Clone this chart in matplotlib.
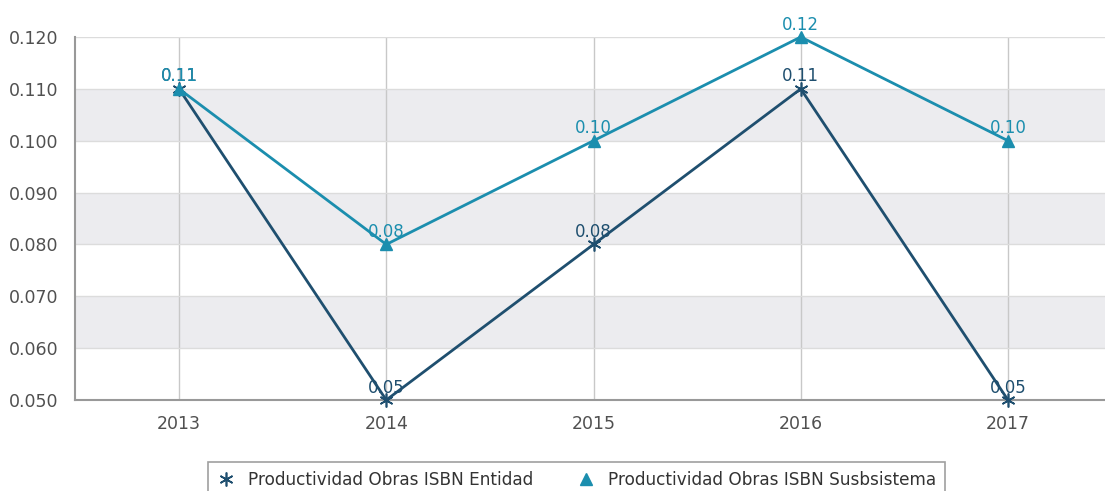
import matplotlib
matplotlib.use("Agg")
import matplotlib.pyplot as plt

years = ["2013", "2014", "2015", "2016", "2017"]
entidad = [0.11, 0.05, 0.08, 0.11, 0.05]
subsistema = [0.11, 0.08, 0.10, 0.12, 0.10]
entidad_labels = ["0.11", "0.05", "0.08", "0.11", "0.05"]
subsistema_labels = ["0.11", "0.08", "0.10", "0.12", "0.10"]
yticks = [0.050, 0.060, 0.070, 0.080, 0.090, 0.100, 0.110, 0.120]
series_names = ["Productividad Obras ISBN Entidad", "Productividad Obras ISBN Susbsistema"]

c_ent = "#1f4f6f"
c_sub = "#1b8eae"

plt.rcParams['font.family'] = ['DejaVu Sans']
fig = plt.figure(figsize=(11.05, 4.91), dpi=100)
ax = fig.add_axes([75.4/1105, 91/491, (1111.6-75.4)/1105, 363/491])

x = list(range(len(years)))
ax.set_xlim(-0.5, len(years) - 0.5)
ax.set_ylim(0.050, 0.120)

# alternating bands
for i in range(len(yticks) - 1):
    if i % 2 == 1:
        ax.axhspan(yticks[i], yticks[i + 1], color="#ececef", zorder=0, lw=0)

ax.set_yticks(yticks)
ax.set_yticklabels([f"{v:.3f}" for v in yticks])
ax.set_xticks(x)
ax.set_xticklabels(years)
ax.grid(axis='y', color="#dcdcdc", lw=1, zorder=1)
ax.grid(axis='x', color="#c8c8c8", lw=1, zorder=1)
ax.tick_params(axis='both', length=0, labelsize=12.5, colors="#505050")
ax.tick_params(axis='x', pad=11)
ax.tick_params(axis='y', pad=12)
for s in ["top", "right"]:
    ax.spines[s].set_visible(False)
ax.spines["left"].set_color("#999999")
ax.spines["bottom"].set_color("#999999")
ax.spines["left"].set_linewidth(1.5)
ax.spines["bottom"].set_linewidth(1.5)

l1, = ax.plot(x, entidad, color=c_ent, lw=2, marker=(6, 2, 0), markersize=10,
              markeredgewidth=1.2, zorder=3, label=series_names[0], clip_on=False)
l2, = ax.plot(x, subsistema, color=c_sub, lw=2, marker='^', markersize=9,
              zorder=4, label=series_names[1], clip_on=False)

for xi, v, t in zip(x, entidad, entidad_labels):
    ax.annotate(t, (xi, v), xytext=(0, 2.5), textcoords='offset points',
                ha='center', va='bottom', color=c_ent, fontsize=12, zorder=5)
for xi, v, t in zip(x, subsistema, subsistema_labels):
    ax.annotate(t, (xi, v), xytext=(0, 2.5), textcoords='offset points',
                ha='center', va='bottom', color=c_sub, fontsize=12, zorder=6)

leg = fig.legend(handles=[l1, l2], loc='upper center', bbox_to_anchor=(0.522, 0.060),
                 ncol=2, frameon=True, fancybox=False, fontsize=12.2,
                 handlelength=1.0, columnspacing=2.6, borderpad=0.55,
                 handletextpad=0.8, borderaxespad=0)
for h in leg.legend_handles:
    h.set_linestyle('none')
leg.get_frame().set_edgecolor("#888888")
leg.get_frame().set_linewidth(1.2)
for t in leg.get_texts():
    t.set_color("#333333")

fig.savefig("out.png", dpi=100)
